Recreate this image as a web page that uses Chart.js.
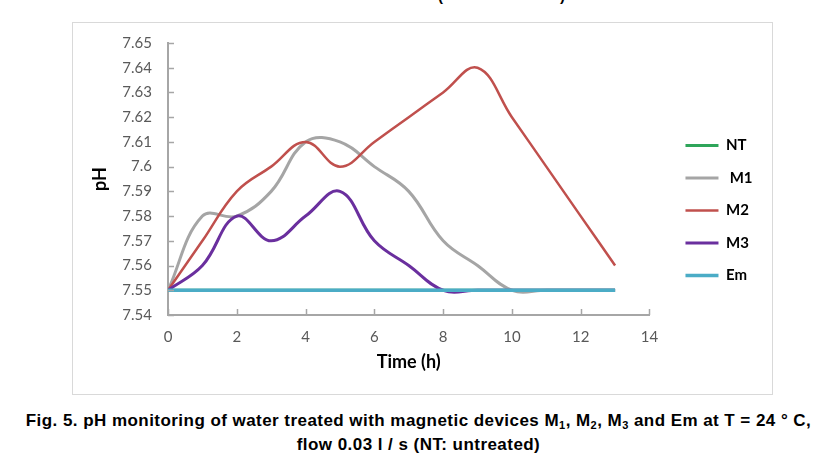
<!DOCTYPE html>
<html>
<head>
<meta charset="utf-8">
<script src="https://cdn.jsdelivr.net/npm/chart.js@4"></script>
<style>
  body { margin: 0; background: #fff; width: 837px; height: 463px; overflow: hidden; position: relative; font-family: "Liberation Sans", Arial, sans-serif; }
  #frame { position: absolute; left: 72px; top: 22px; width: 699px; height: 371px; border: 1px solid #d9d9d9; }
  #cut { position: absolute; top: -13px; left: 0; width: 837px; font: bold 15px "Liberation Sans", Arial, sans-serif; color: #000; }
  #cut span { position: absolute; }
  #caption { position: absolute; left: 0; top: 409px; width: 837px; text-align: center; font: bold 17px/24px "Liberation Sans", Arial, sans-serif; letter-spacing: 0.45px; color: #000; }
  #caption sub { font-size: 11px; vertical-align: -3px; line-height: 0; }
</style>
</head>
<body>
<div id="cut"><span style="left:438px">(</span><span style="left:560px">)</span></div>
<div id="frame"><canvas id="chartPh" width="699" height="371"></canvas></div>
<div id="caption">Fig. 5. pH monitoring of water treated with magnetic devices M<sub>1</sub>, M<sub>2</sub>, M<sub>3</sub> and Em at T = 24 ° C,<br>flow 0.03 l / s (NT: untreated)</div>
<script>
const hours = [0, 1, 2, 3, 4, 5, 6, 7, 8, 9, 10, 11, 12, 13];
const phNT = [7.55, 7.55, 7.55, 7.55, 7.55, 7.55, 7.55, 7.55, 7.55, 7.55, 7.55, 7.55, 7.55, 7.55];
const phM1 = [7.55, 7.58, 7.58, 7.59, 7.61, 7.61, 7.60, 7.59, 7.57, 7.56, 7.55, 7.55, 7.55, 7.55];
const phM2 = [7.55, 7.57, 7.59, 7.60, 7.61, 7.60, 7.61, 7.62, 7.63, 7.64, 7.62, 7.60, 7.58, 7.56];
const phM3 = [7.55, 7.56, 7.58, 7.57, 7.58, 7.59, 7.57, 7.56, 7.55, 7.55, 7.55, 7.55, 7.55, 7.55];
const phEm = [7.55, 7.55, 7.55, 7.55, 7.55, 7.55, 7.55, 7.55, 7.55, 7.55, 7.55, 7.55, 7.55, 7.55];
const xTicks = [0, 2, 4, 6, 8, 10, 12, 14];
const yMin = 7.54, yMax = 7.65, yStep = 0.01;

const pts = vals => vals.map((v, i) => ({ x: hours[i], y: v }));
const axisGrey = '#a6a6a6';
const tickFont = { family: 'Lato', size: 15 };

// petits traits de graduation vers l'intérieur (style Excel)
const innerTicks = {
    id: 'innerTicks',
    afterDraw(chart) {
        const { ctx, scales: { x, y } } = chart;
        ctx.save();
        ctx.strokeStyle = axisGrey;
        ctx.lineWidth = 1.5;
        ctx.beginPath();
        y.ticks.forEach(t => {
            const py = Math.round(y.getPixelForValue(t.value)) + 0.5;
            ctx.moveTo(y.right, py); ctx.lineTo(y.right + 6, py);
        });
        x.ticks.forEach(t => {
            const px = Math.round(x.getPixelForValue(t.value)) + 0.5;
            ctx.moveTo(px, x.top); ctx.lineTo(px, x.top - 6);
        });
        ctx.stroke();
        ctx.restore();
    }
};

const ctxPh = document.getElementById('chartPh').getContext('2d');
new Chart(ctxPh, {
    type: 'line',
    data: {
        datasets: [
            { label: 'NT', data: pts(phNT), borderColor: '#2ea55a', borderWidth: 3, order: 4 },
            { label: ' M1', data: pts(phM1), borderColor: '#a5a5a5', borderWidth: 3, order: 3 },
            { label: 'M2', data: pts(phM2), borderColor: '#c0504d', borderWidth: 2.5, order: 2 },
            { label: 'M3', data: pts(phM3), borderColor: '#6a2f9e', borderWidth: 3, order: 1 },
            { label: 'Em', data: pts(phEm), borderColor: '#4bacc6', borderWidth: 3.5, order: 0 }
        ]
    },
    options: {
        responsive: false,
        animation: false,
        layout: { padding: { top: 20, right: 9.5, bottom: 16, left: 0 } },
        elements: {
            point: { radius: 0 },
            line: { tension: 0.4, fill: false, borderCapStyle: 'butt' }
        },
        plugins: {
            legend: {
                position: 'right',
                labels: {
                    usePointStyle: true,
                    pointStyle: 'line',
                    pointStyleWidth: 33,
                    padding: 17.5,
                    color: '#000',
                    font: { family: 'Lato', size: 15, weight: 'bold' },
                    sort: (a, b) => a.datasetIndex - b.datasetIndex
                }
            },
            tooltip: { enabled: false }
        },
        scales: {
            x: {
                type: 'linear',
                min: 0, max: 14,
                afterBuildTicks: s => { s.ticks = xTicks.map(v => ({ value: v })); },
                afterFit: s => { s.height = 63; },
                grid: { display: false },
                border: { color: axisGrey, width: 2 },
                ticks: { color: '#595959', font: tickFont, padding: 5, maxRotation: 0 },
                title: { display: true, text: 'Time (h)', color: '#000', font: { family: 'Lato', size: 18, weight: 'bold' }, padding: { bottom: 5 } }
            },
            y: {
                min: yMin, max: yMax,
                afterFit: s => { s.width = 95; },
                grid: { display: false },
                border: { color: axisGrey, width: 2 },
                ticks: { stepSize: yStep, color: '#595959', font: tickFont, padding: 8, callback: v => String(+v.toFixed(2)) },
                title: { display: true, text: 'pH', color: '#000', font: { family: 'Lato', size: 18, weight: 'bold' }, padding: { top: 16 } }
            },
            gap: {
                position: 'right',
                display: true,
                afterFit: s => { s.width = 18.5; },
                grid: { display: false },
                border: { display: false },
                ticks: { display: false }
            }
        }
    },
    plugins: [innerTicks]
});
</script>
</body>
</html>
